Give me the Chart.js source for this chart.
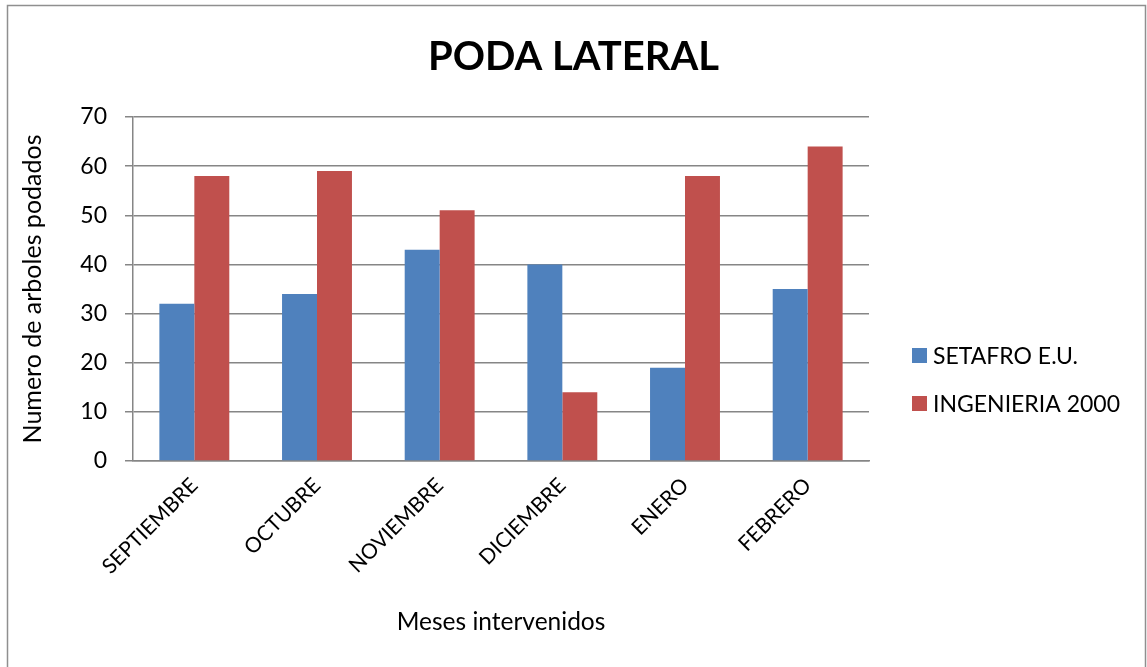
<!DOCTYPE html>
<html lang="es">
<head>
    <meta charset="UTF-8">
    <title>Poda lateral</title>
    <script src="https://cdn.jsdelivr.net/npm/chart.js"></script>
    <style>
        html, body {
            margin: 0;
            padding: 0;
            background: #fff;
        }
        .chart-box {
            width: 1147px;
            height: 667px;
            position: relative;
        }
    </style>
</head>
<body>
    <div class="chart-box">
        <canvas id="podaChart"></canvas>
    </div>

    <script>
        // Datos
        const meses = ["SEPTIEMBRE", "OCTUBRE", "NOVIEMBRE", "DICIEMBRE", "ENERO", "FEBRERO"];
        const setafro = [32, 34, 43, 40, 19, 35];
        const ingenieria = [58, 59, 51, 14, 58, 64];
        const yTicks = [0, 10, 20, 30, 40, 50, 60, 70];

        const FONT = "Lato, 'Liberation Sans', sans-serif";
        const GRID = '#868686';

        // marco exterior del grafico
        const framePlugin = {
            id: 'frame',
            beforeDraw(chart) {
                const c = chart.ctx;
                c.save();
                c.fillStyle = '#fff';
                c.fillRect(0, 0, chart.width, chart.height);
                c.strokeStyle = '#8f8f8f';
                c.lineWidth = 1.5;
                c.strokeRect(7.5, 5.5, chart.width - 9, chart.height + 10);
                c.restore();
            }
        };

        // leyenda a la derecha, como en Excel
        const legendPlugin = {
            id: 'sideLegend',
            afterDraw(chart) {
                const c = chart.ctx;
                const x = chart.chartArea.right + 43;
                let y = 355.5;
                c.save();
                c.font = '23px ' + FONT;
                c.textBaseline = 'middle';
                c.textAlign = 'left';
                chart.data.datasets.forEach(ds => {
                    c.fillStyle = ds.backgroundColor;
                    c.fillRect(x, y - 7.5, 15, 15);
                    c.fillStyle = '#000';
                    c.fillText(ds.label, x + 21, y + 1);
                    y += 48;
                });
                c.restore();
            }
        };

        const ctx = document.getElementById('podaChart').getContext('2d');

        new Chart(ctx, {
            type: 'bar',
            data: {
                labels: meses,
                datasets: [
                    {
                        label: 'SETAFRO E.U.',
                        data: setafro,
                        backgroundColor: '#4F81BD'
                    },
                    {
                        label: 'INGENIERIA 2000',
                        data: ingenieria,
                        backgroundColor: '#C0504D'
                    }
                ]
            },
            options: {
                responsive: true,
                maintainAspectRatio: false,
                animation: false,
                layout: { padding: 0 },
                datasets: {
                    bar: {
                        categoryPercentage: 0.57,
                        barPercentage: 1.0
                    }
                },
                plugins: {
                    legend: { display: false },
                    tooltip: { enabled: false },
                    title: {
                        display: true,
                        text: 'PODA LATERAL',
                        color: '#000',
                        font: { family: FONT, size: 40, weight: 'bold', lineHeight: 1.2 },
                        padding: { top: 33, bottom: 36 }
                    }
                },
                scales: {
                    x: {
                        grid: { display: false },
                        border: { display: true, color: GRID, width: 1.5 },
                        ticks: {
                            color: '#000',
                            font: { family: FONT, size: 21 },
                            minRotation: 45,
                            maxRotation: 45,
                            padding: 4
                        },
                        title: {
                            display: true,
                            text: 'Meses intervenidos',
                            color: '#000',
                            font: { family: FONT, size: 24.5, lineHeight: 1.2 },
                            padding: { top: 30, bottom: 30 }
                        },
                        afterFit(scale) { scale.height = 206; }
                    },
                    y: {
                        min: 0,
                        max: 70,
                        afterBuildTicks(scale) {
                            scale.ticks = yTicks.map(v => ({ value: v }));
                        },
                        grid: { color: GRID, lineWidth: 1.5, tickLength: 8 },
                        border: { display: true, color: GRID, width: 1.5 },
                        ticks: {
                            color: '#000',
                            font: { family: FONT, size: 23 },
                            padding: 18
                        },
                        title: {
                            display: true,
                            text: 'Numero de arboles podados',
                            color: '#000',
                            font: { family: FONT, size: 25, lineHeight: 1.2 },
                            padding: { top: 18, bottom: 18 }
                        },
                        afterFit(scale) { scale.width = 133; }
                    },
                    // eje vacio a la derecha: reserva el espacio de la leyenda
                    side: {
                        type: 'linear',
                        position: 'right',
                        display: true,
                        grid: { display: false },
                        border: { display: false },
                        ticks: { display: false },
                        afterFit(scale) { scale.width = 278; }
                    }
                }
            },
            plugins: [framePlugin, legendPlugin]
        });
    </script>
</body>
</html>
